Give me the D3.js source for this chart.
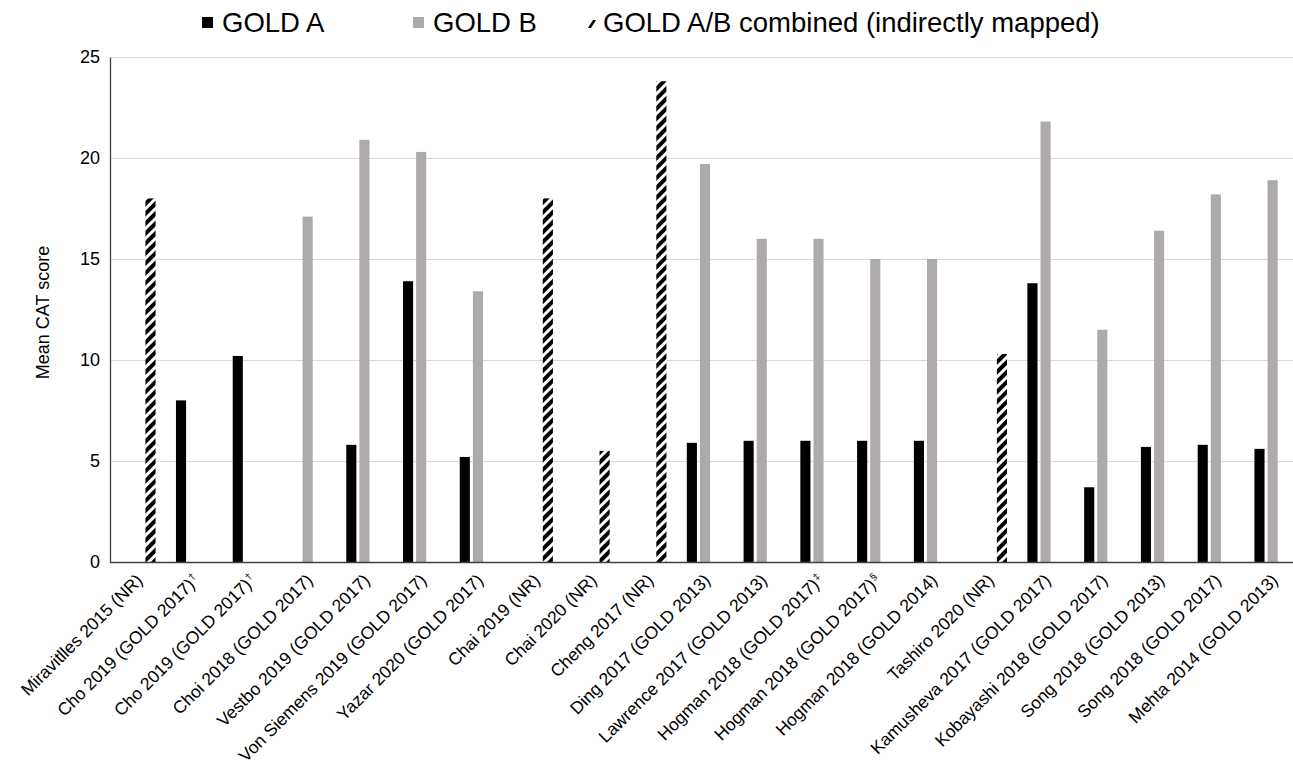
<!DOCTYPE html>
<html>
<head>
<meta charset="utf-8">
<script src="https://cdn.jsdelivr.net/npm/d3@7"></script>
<style>
  html, body { margin: 0; padding: 0; background: #fff; }
  svg { display: block; }
  text { font-family: "Liberation Sans", Arial, sans-serif; fill: #000; }
</style>
</head>
<body>
<svg id="chart" width="1293" height="767"></svg>
<script>
// ---- Data ----
const categories = [
  "Miravitlles 2015 (NR)",
  "Cho 2019 (GOLD 2017)",
  "Cho 2019 (GOLD 2017)",
  "Choi 2018 (GOLD 2017)",
  "Vestbo 2019 (GOLD 2017)",
  "Von Siemens 2019 (GOLD 2017)",
  "Yazar 2020 (GOLD 2017)",
  "Chai 2019 (NR)",
  "Chai 2020 (NR)",
  "Cheng 2017 (NR)",
  "Ding 2017 (GOLD 2013)",
  "Lawrence 2017 (GOLD 2013)",
  "Hogman 2018 (GOLD 2017)",
  "Hogman 2018 (GOLD 2017)",
  "Hogman 2018 (GOLD 2014)",
  "Tashiro 2020 (NR)",
  "Kamusheva 2017 (GOLD 2017)",
  "Kobayashi 2018 (GOLD 2017)",
  "Song 2018 (GOLD 2013)",
  "Song 2018 (GOLD 2017)",
  "Mehta 2014 (GOLD 2013)"
];
const superscripts = ["", "†", "†", "", "", "", "", "", "", "", "", "", "‡", "§", "", "", "", "", "", "", ""];
const goldA =    [null, 8.0, 10.2, null, 5.8, 13.9, 5.2, null, null, null, 5.9, 6.0, 6.0, 6.0, 6.0, null, 13.8, 3.7, 5.7, 5.8, 5.6];
const goldB =    [null, null, null, 17.1, 20.9, 20.3, 13.4, null, null, null, 19.7, 16.0, 16.0, 15.0, 15.0, null, 21.8, 11.5, 16.4, 18.2, 18.9];
const combined = [18.0, null, null, null, null, null, null, 18.0, 5.5, 23.8, null, null, null, null, null, 10.3, null, null, null, null, null];
const seriesNames = ["GOLD A", "GOLD B", "GOLD A/B combined (indirectly mapped)"];
const yTicks = [0, 5, 10, 15, 20, 25];
const yTitle = "Mean CAT score";

// ---- Layout ----
const svg = d3.select("#chart");
const mLeft = 110, mRight = 1302, mTop = 57, mBottom = 562;

const idx = categories.map((d, i) => i);
const x0 = d3.scaleBand().domain(idx).range([mLeft, mRight]).padding(0);
const groupW = 39;
const x1 = d3.scaleBand().domain([0, 1, 2])
  .range([(x0.bandwidth() - groupW) / 2 - 1, (x0.bandwidth() + groupW) / 2 - 1])
  .paddingInner(0.23).paddingOuter(0.1);
const y = d3.scaleLinear().domain([0, 25]).range([mBottom, mTop]);

// pattern
const defs = svg.append("defs");
const pat = defs.append("pattern")
  .attr("id", "hatch").attr("patternUnits", "userSpaceOnUse")
  .attr("width", 7).attr("height", 7)
  .attr("patternTransform", "rotate(45)");
pat.append("rect").attr("width", 7).attr("height", 7).attr("fill", "#fff");
pat.append("rect").attr("x", 0).attr("width", 4).attr("height", 7).attr("fill", "#000");

// gridlines
svg.append("g")
  .selectAll("line").data(yTicks.filter(t => t > 0)).join("line")
  .attr("x1", mLeft).attr("x2", 1293)
  .attr("y1", d => y(d) + 0.5).attr("y2", d => y(d) + 0.5)
  .attr("stroke", "#d9d9d9").attr("stroke-width", 1);

// bars
const colors = ["#000000", "#aeaaaa", "url(#hatch)"];
const seriesData = [goldA, goldB, combined];
seriesData.forEach((vals, s) => {
  svg.append("g")
    .selectAll("rect")
    .data(vals.map((v, i) => ({ v, i })).filter(d => d.v != null))
    .join("rect")
    .attr("x", d => x0(d.i) + x1(s))
    .attr("width", x1.bandwidth())
    .attr("y", d => y(d.v))
    .attr("height", d => y(0) - y(d.v))
    .attr("fill", colors[s]);
});

// y axis
const yAxis = svg.append("g").attr("transform", `translate(${mLeft},0)`)
  .call(d3.axisLeft(y).tickValues(yTicks).tickSize(0).tickPadding(10));
yAxis.select(".domain").attr("stroke", "#404040").attr("stroke-width", 1.3);
yAxis.selectAll("text").style("font-size", "18px").style("font-family", '"Liberation Sans", Arial, sans-serif').attr("fill", "#000");

// x axis line
svg.append("line")
  .attr("x1", mLeft).attr("x2", 1293)
  .attr("y1", mBottom + 0.5).attr("y2", mBottom + 0.5)
  .attr("stroke", "#404040").attr("stroke-width", 1.3);

// x labels
const xl = svg.append("g").selectAll("text").data(idx).join("text")
  .attr("transform", d => `translate(${x0(d) + x0.bandwidth() / 2 + 1},${mBottom + 15}) rotate(-45)`)
  .attr("text-anchor", "end")
  .attr("dy", "0.35em")
  .style("font-size", "17.5px");
xl.append("tspan").text(d => categories[d]);
xl.append("tspan").text(d => superscripts[d])
  .attr("dx", "1").attr("dy", "-0.6em").style("font-size", "10px");

// y title
svg.append("text")
  .attr("transform", `translate(49,${(mTop + mBottom) / 2 + 3}) rotate(-90)`)
  .attr("text-anchor", "middle")
  .style("font-size", "18px")
  .text(yTitle);

// legend
const legend = svg.append("g");
const lx = [202, 413, 603];
legend.append("rect").attr("x", lx[0]).attr("y", 17).attr("width", 11).attr("height", 11).attr("fill", colors[0]);
legend.append("rect").attr("x", lx[1]).attr("y", 17).attr("width", 11).attr("height", 11).attr("fill", colors[1]);
legend.append("path").attr("d", `M${lx[2] - 15},28 L${lx[2] - 12},28 L${lx[2] - 7},20 L${lx[2] - 10},20 Z`).attr("fill", "#000");
legend.selectAll("text.lg").data(seriesNames).join("text")
  .attr("class", "lg")
  .attr("x", (d, i) => i === 2 ? lx[i] : lx[i] + 20)
  .attr("y", 32)
  .style("font-size", "27.5px")
  .text(d => d);
</script>
</body>
</html>
